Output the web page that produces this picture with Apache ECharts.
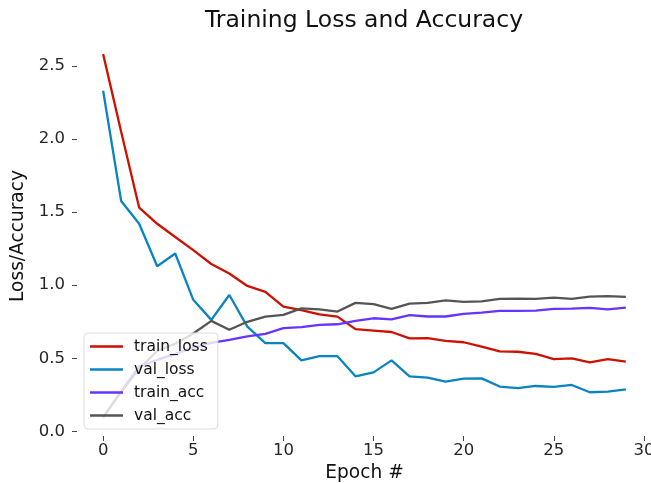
<!DOCTYPE html>
<html>
<head>
<meta charset="utf-8">
<script src="https://cdn.jsdelivr.net/npm/echarts@6/dist/echarts.min.js"></script>
<style>
html,body{margin:0;padding:0;background:#fff;}
#chart{width:651px;height:483px;}
</style>
</head>
<body>
<div id="chart"></div>
<script>
const epochs = Array.from({length:30}, (_, i) => i);
const trainLoss = [2.58, 2.05, 1.53, 1.42, 1.33, 1.24, 1.145, 1.08, 0.995, 0.955, 0.854, 0.83, 0.80, 0.785, 0.70, 0.69, 0.68, 0.636, 0.638, 0.62, 0.61, 0.58, 0.547, 0.545, 0.53, 0.495, 0.50, 0.472, 0.495, 0.477];
const valLoss = [2.33, 1.576, 1.42, 1.13, 1.217, 0.90, 0.763, 0.933, 0.717, 0.604, 0.604, 0.486, 0.515, 0.515, 0.377, 0.404, 0.486, 0.377, 0.368, 0.34, 0.361, 0.363, 0.307, 0.297, 0.311, 0.305, 0.318, 0.268, 0.272, 0.288];
const trainAcc = [0.095, 0.275, 0.445, 0.49, 0.53, 0.575, 0.605, 0.627, 0.65, 0.667, 0.706, 0.713, 0.729, 0.733, 0.756, 0.774, 0.767, 0.795, 0.786, 0.786, 0.804, 0.813, 0.824, 0.824, 0.826, 0.838, 0.84, 0.845, 0.835, 0.847];
const valAcc = [0.10, 0.27, 0.43, 0.55, 0.60, 0.67, 0.756, 0.695, 0.75, 0.785, 0.797, 0.842, 0.835, 0.82, 0.879, 0.87, 0.838, 0.874, 0.879, 0.897, 0.886, 0.89, 0.906, 0.908, 0.906, 0.915, 0.906, 0.922, 0.926, 0.92];
const xTicks = [0, 5, 10, 15, 20, 25, 30];
const yTicks = [0, 0.5, 1.0, 1.5, 2.0, 2.5];

const FONT = 'DejaVu Sans';
const chart = echarts.init(document.getElementById('chart'), null, {renderer: 'canvas'});
function mk(name, data, color) {
  return {
    name: name, type: 'line', symbol: 'none', smooth: false,
    data: epochs.map((e, i) => [e, data[i]]),
    lineStyle: {color: color, width: 2.3},
    itemStyle: {color: color},
    emphasis: {disabled: true}
  };
}
chart.setOption({
  animation: false,
  backgroundColor: '#ffffff',
  title: {
    text: 'Training Loss and Accuracy',
    left: 359, top: 4, textAlign: 'center',
    textStyle: {fontFamily: FONT, fontSize: 23.5, fontWeight: 'normal', color: '#111'}
  },
  grid: {left: 77, top: 36, width: 575, height: 400, outerBoundsMode: 'none', containLabel: false},
  legend: {
    orient: 'vertical', left: 84, top: 333,
    data: ['train_loss', 'val_loss', 'train_acc', 'val_acc'],
    icon: 'rect',
    itemWidth: 33, itemHeight: 2.4, itemGap: 6,
    padding: [5, 10, 5, 6],
    backgroundColor: 'rgba(255,255,255,0.8)',
    borderColor: '#dddddd', borderWidth: 1, borderRadius: 4,
    textStyle: {fontFamily: FONT, fontSize: 15.5, color: '#111', lineHeight: 17, padding: [0, 0, 0, 6]}
  },
  xAxis: {
    type: 'value', min: -1.45, max: 30.45,
    name: 'Epoch #', nameLocation: 'middle', nameGap: 23,
    nameTextStyle: {fontFamily: FONT, fontSize: 18.6, color: '#111'},
    axisLine: {show: false, onZero: false},
    splitLine: {show: false},
    axisTick: {show: true, customValues: xTicks, length: 5, lineStyle: {color: '#444'}},
    axisLabel: {customValues: xTicks, fontFamily: FONT, fontSize: 16.5, color: '#262626', margin: 6,
      formatter: v => String(Math.round(v))}
  },
  yAxis: {
    type: 'value', min: -0.031, max: 2.704,
    name: 'Loss/Accuracy', nameLocation: 'middle', nameGap: 41,
    nameTextStyle: {fontFamily: FONT, fontSize: 18.6, color: '#111'},
    axisLine: {show: false, onZero: false},
    splitLine: {show: false},
    axisTick: {show: true, customValues: yTicks, length: 5, lineStyle: {color: '#444'}},
    axisLabel: {customValues: yTicks, fontFamily: FONT, fontSize: 16.5, color: '#262626', margin: 12,
      formatter: v => v.toFixed(1)}
  },
  series: [
    mk('train_loss', trainLoss, '#cc1100'),
    mk('val_loss', valLoss, '#0a84c0'),
    mk('train_acc', trainAcc, '#6633ff'),
    mk('val_acc', valAcc, '#555555')
  ]
});
</script>
</body>
</html>
